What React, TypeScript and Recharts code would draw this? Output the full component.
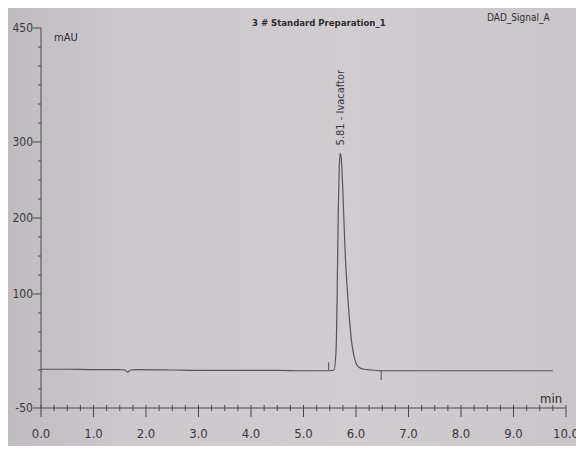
import React from "react";
import {
  LineChart,
  Line,
  XAxis,
  YAxis,
  ReferenceLine,
  ReferenceDot,
} from "recharts";

// retention time (min) and detector signal (mAU)
const times = [
  0, 0.5, 1.0, 1.5, 1.6, 1.65, 1.7, 1.8, 2.5, 3.0, 3.5, 4.0, 4.5, 5.0, 5.4,
  5.5, 5.58, 5.62, 5.64, 5.66, 5.68, 5.7, 5.72, 5.75, 5.79, 5.85, 5.92, 5.98,
  6.05, 6.15, 6.3, 6.5, 7.0, 8.0, 9.0, 9.75,
];
const signal = [
  1, 1, 0.5, 0.5, 0, -3, 0, 0.5, 0, -0.5, -0.5, -0.5, -0.5, -1, -1, -1, 0,
  25, 95, 200, 265, 285, 278, 235, 160, 90, 35, 13, 4, 1, 0, -1, -1, -1, -1,
  -1,
];

const peakName = "5.81 - Ivacaftor";
const peakTime = 5.7;
const peakHeight = 285;

// integration markers (start / end of the peak)
const markStart = 5.48;
const markEnd = 6.48;

const xMajorTicks = [0, 1, 2, 3, 4, 5, 6, 7, 8, 9, 10];
const yLabelTicks = [-50, 100, 200, 300, 450];
const yMinorTicks = [
  -25, 0, 25, 50, 75, 125, 150, 175, 225, 250, 275, 325, 350, 375, 400, 425,
];

const data = times.map((t, i) => ({ t, v: signal[i] }));
const xTicks: number[] = [];
xMajorTicks.forEach((m) => {
  xTicks.push(m);
  if (m < 10) xTicks.push(m + 0.25, m + 0.5, m + 0.75);
});
const yTicks = [...yLabelTicks, ...yMinorTicks].sort((a, b) => a - b);

const font =
  "'Liberation Sans Narrow', 'DejaVu Sans Condensed', 'Liberation Sans', Arial, sans-serif";
const ink = "#4a474c";

const XTick = (props: any) => {
  const { x, y, payload } = props;
  const major = Number.isInteger(payload.value);
  return (
    <g>
      <line x1={x} x2={x} y1={y - 3} y2={major ? y + 9 : y + 3} stroke={ink} />
      {major && (
        <text
          x={x}
          y={y + 30}
          textAnchor="middle"
          fontSize={13}
          fontFamily={font}
          fill="#3a373c"
        >
          {payload.value.toFixed(1)}
        </text>
      )}
    </g>
  );
};

const YTick = (props: any) => {
  const { x, y, payload } = props;
  const labelled = yLabelTicks.includes(payload.value);
  return (
    <g>
      <line x1={x - (labelled ? 8 : 3)} x2={x} y1={y} y2={y} stroke={ink} />
      {labelled && (
        <text
          x={x - 8}
          y={y}
          dy={4}
          textAnchor="end"
          fontSize={12}
          fontFamily={font}
          fill="#3a373c"
        >
          {payload.value}
        </text>
      )}
    </g>
  );
};

const PeakLabel = (props: any) => {
  const { viewBox } = props;
  const cx = viewBox.x + (viewBox.width || 0) / 2;
  const cy = viewBox.y + (viewBox.height || 0) / 2 - 8;
  return (
    <text
      x={cx}
      y={cy}
      transform={`rotate(-90, ${cx}, ${cy})`}
      dominantBaseline="central"
      textAnchor="start"
      fontSize={11}
      fontFamily={font}
      fill="#3a373c"
    >
      {peakName}
    </text>
  );
};

const textStyle: React.CSSProperties = {
  position: "absolute",
  fontFamily: font,
  color: "#2f2c31",
  whiteSpace: "nowrap",
  lineHeight: 1,
};

const App: React.FC = () => {
  return (
    <div
      style={{
        position: "relative",
        width: 576,
        height: 438,
        background:
          "linear-gradient(90deg, #bfbbc0 0%, #ccc8cc 20%, #d0ccd0 60%, #c9c5c9 100%)",
      }}
    >
      <LineChart
        width={576}
        height={438}
        data={data}
        margin={{ top: 20, right: 18, bottom: 8, left: 0 }}
      >
        <XAxis
          dataKey="t"
          type="number"
          domain={[0, 10]}
          ticks={xTicks}
          interval={0}
          tick={<XTick />}
          tickLine={false}
          tickSize={0}
          tickMargin={0}
          height={30}
          axisLine={{ stroke: ink }}
        />
        <XAxis
          xAxisId="top"
          orientation="top"
          type="number"
          domain={[0, 10]}
          tick={false}
          tickLine={false}
          height={0}
          axisLine={{ stroke: ink }}
        />
        <YAxis
          type="number"
          domain={[-50, 450]}
          ticks={yTicks}
          interval={0}
          tick={<YTick />}
          tickLine={false}
          tickSize={0}
          tickMargin={0}
          width={33}
          axisLine={{ stroke: ink }}
        />
        <YAxis
          yAxisId="right"
          orientation="right"
          type="number"
          domain={[-50, 450]}
          tick={false}
          tickLine={false}
          width={0}
          axisLine={{ stroke: ink }}
        />
        <ReferenceLine
          segment={[
            { x: markStart, y: 0 },
            { x: markStart, y: 10 },
          ]}
          stroke={ink}
        />
        <ReferenceLine
          segment={[
            { x: markEnd, y: 0 },
            { x: markEnd, y: -13 },
          ]}
          stroke={ink}
        />
        <Line
          type="monotone"
          dataKey="v"
          stroke="#56535a"
          strokeWidth={1.2}
          dot={false}
          isAnimationActive={false}
        />
        <ReferenceDot
          x={peakTime}
          y={peakHeight}
          r={0}
          fill="none"
          stroke="none"
          label={<PeakLabel />}
        />
      </LineChart>
      <div
        style={{
          ...textStyle,
          left: 244,
          top: 10,
          fontSize: 9.5,
          fontWeight: "bold",
        }}
      >
        3 # Standard Preparation_1
      </div>
      <div style={{ ...textStyle, left: 479, top: 5, fontSize: 10 }}>
        DAD_Signal_A
      </div>
      <div style={{ ...textStyle, left: 46, top: 24, fontSize: 11 }}>mAU</div>
      <div style={{ ...textStyle, left: 532, top: 384, fontSize: 13 }}>min</div>
    </div>
  );
};

export default App;
